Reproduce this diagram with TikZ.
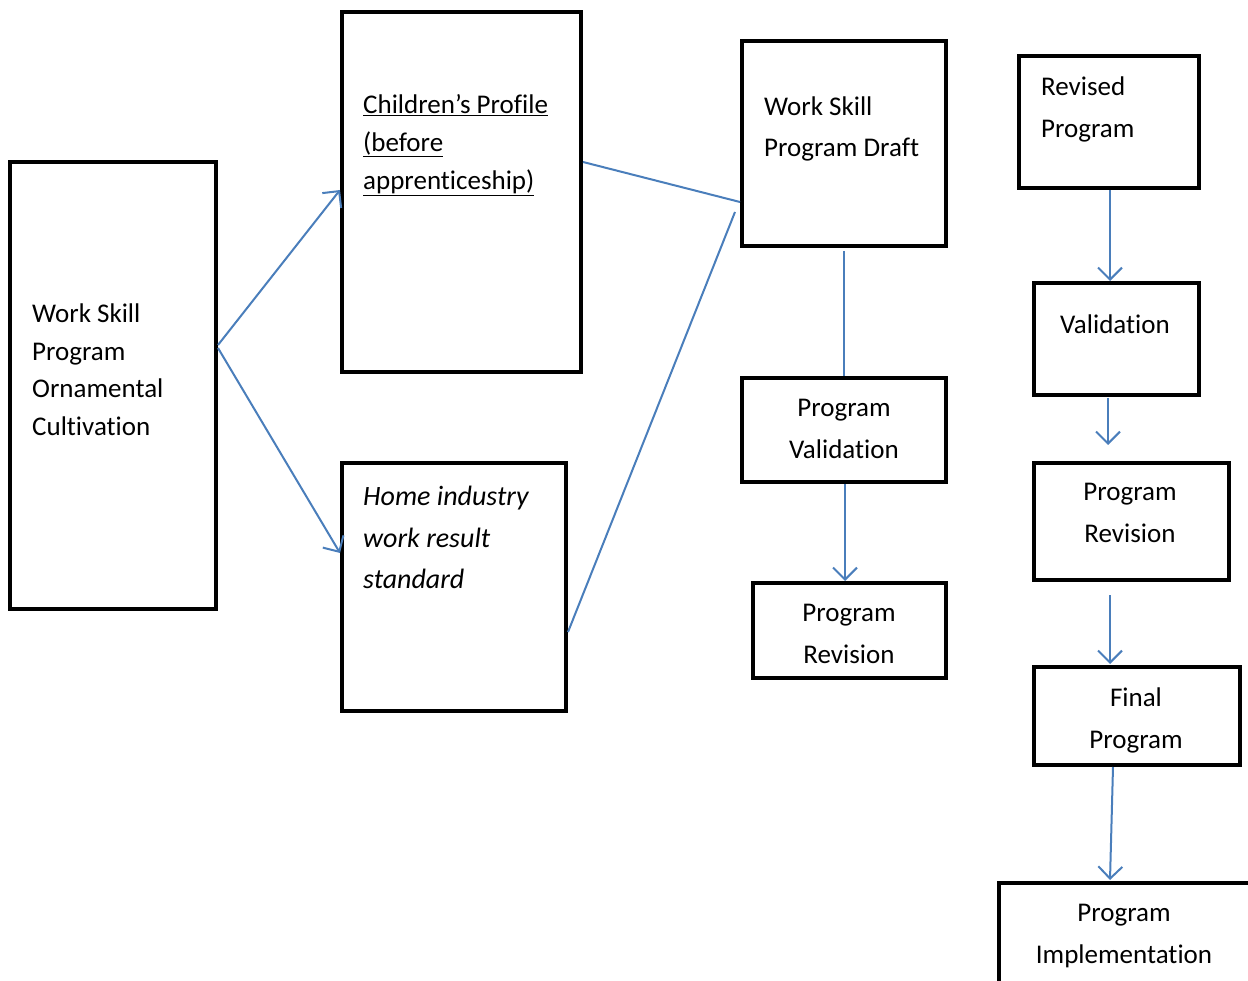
\documentclass[tikz,border=0pt]{standalone}
\usepackage{fontspec}
\setmainfont{Carlito}[Ligatures={NoCommon}]
\usetikzlibrary{arrows.meta,calc}
\definecolor{conn}{HTML}{4A7EBB}
\tikzset{
  box/.style={draw=black, line width=4pt, anchor=north west, inner sep=0pt, rectangle},
  txt/.style={inner sep=0pt, font=\fontsize{27}{42}\selectfont},
  conline/.style={draw=conn, line width=2pt},
  conarrow/.style={conline, -{Straight Barb[length=12pt,width=24pt,line width=2pt]}}
}
\begin{document}
\begin{tikzpicture}[x=1pt,y=-1pt]
\useasboundingbox (0,0) rectangle (1248,981);
% boxes
\node[box, minimum width=206pt, minimum height=447pt] (a) at (8,160) {};
\node[box, minimum width=239pt, minimum height=360pt] (b) at (340,10) {};
\node[box, minimum width=224pt, minimum height=248pt] (c) at (340,461) {};
\node[box, minimum width=204pt, minimum height=205pt] (d) at (740,39) {};
\node[box, minimum width=204pt, minimum height=104pt] (e) at (740,376) {};
\node[box, minimum width=193pt, minimum height=95pt] (f) at (751,581) {};
\node[box, minimum width=180pt, minimum height=132pt] (g) at (1017,54) {};
\node[box, minimum width=165pt, minimum height=112pt] (h) at (1032,281) {};
\node[box, minimum width=195pt, minimum height=117pt] (i) at (1032,461) {};
\node[box, minimum width=206pt, minimum height=98pt] (j) at (1032,665) {};
\node[box, minimum width=260pt, minimum height=120pt] (k) at (997,881) {};
% texts
\node[txt, anchor=north west, align=left, font=\fontsize{27}{37.5}\selectfont] (ta) at (32,304) {Work Skill\\Program\\Ornamental\\Cultivation};
\node[txt, anchor=north west, align=left, font=\fontsize{27}{38}\selectfont] (tb) at (363,94) {\underline{Children’s Profile}\\\underline{(before}\\\underline{apprenticeship)}};
\node[txt, anchor=north west, align=left, font=\fontsize{28}{41.5}\selectfont\itshape] (tc) at (363,486) {Home industry\\work result\\standard};
\node[txt, anchor=north west, align=left, font=\fontsize{27}{41}\selectfont] (td) at (764,97) {Work Skill\\Program Draft};
\node[txt, anchor=north, align=center] (te) at (844,399) {Program\\Validation};
\node[txt, anchor=north, align=center] (tf) at (849,604) {Program\\Revision};
\node[txt, anchor=north west, align=left] (tg) at (1041,77) {Revised\\Program};
\node[txt, anchor=north, align=center] (th) at (1115,315) {Validation};
\node[txt, anchor=north, align=center] (ti) at (1130,483) {Program\\Revision};
\node[txt, anchor=north, align=center] (tj) at (1136,688) {Final\\Program};
\node[txt, anchor=north, align=center] (tk) at (1124,904) {Program\\Implementation};
% connectors
\draw[conarrow] ($(a.north east)+(0,185)$) -- ($(b.north west)+(0,180)$);
\draw[conarrow] ($(a.north east)+(0,188)$) -- ($(c.north west)+(0,92)$);
\draw[conline] ($(b.north east)+(0,152)$) -- ($(d.north west)+(0,163)$);
\draw[conline] ($(c.north east)+(0,171)$) -- ($(d.north west)+(-5,173)$);
\draw[conline] ($(d.south)+(0,3)$) -- (d.south |- e.north);
\draw[conarrow] ($(e.south)+(1,0)$) -- ($(e.south |- f.north)+(1,0)$);
\draw[conarrow] ($(g.south)+(1,0)$) -- ($(g.south |- h.north)+(1,0)$);
\draw[conarrow] ($(h.south)+(-8.5,1)$) -- ($(i.north)+(-23.5,-16)$);
\draw[conarrow] ($(i.south)+(-21.5,13)$) -- ($(j.north)+(-27,-1)$);
\draw[conarrow] ($(j.south)+(-24,0)$) -- ($(k.north)+(-19,-1)$);
\end{tikzpicture}
\end{document}
